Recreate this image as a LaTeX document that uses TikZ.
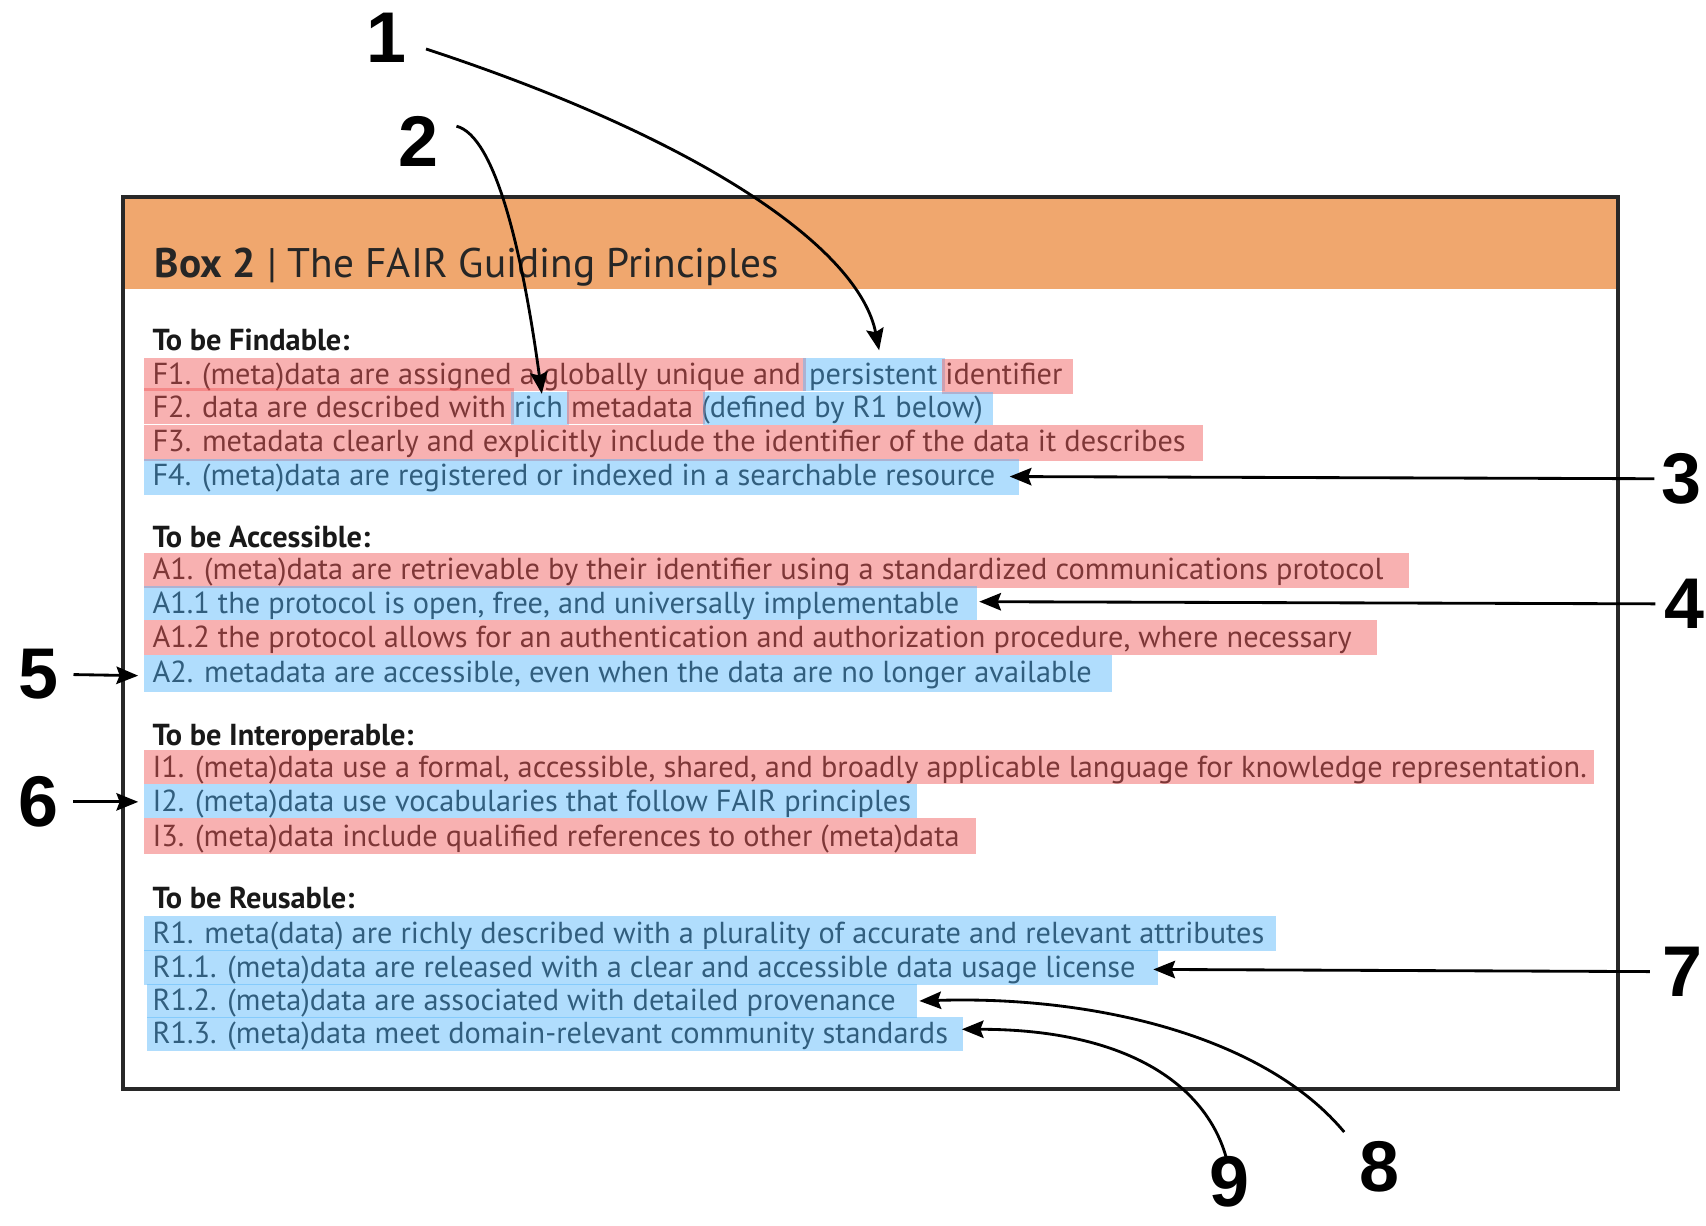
\documentclass[tikz,border=0pt]{standalone}
\usepackage{fontspec}
\usetikzlibrary{arrows.meta}
\newfontfamily\bodyfont{PT Sans}
\newfontfamily\numfont{Liberation Sans}
\definecolor{boxorange}{RGB}{240,167,110}
\definecolor{boxline}{RGB}{40,40,40}
\definecolor{hlred}{RGB}{240,90,90}
\definecolor{hlblue}{RGB}{80,180,250}
\tikzset{
  num/.style={font=\numfont\bfseries\fontsize{66}{66}\selectfont, inner sep=0pt},
  body/.style={font=\bodyfont\fontsize{27.9}{31}\selectfont, inner sep=0pt, anchor=base west, text=black!90},
  head/.style={body, font=\bodyfont\bfseries\fontsize{27.9}{31}\selectfont},
  hlr/.style={fill=hlred, fill opacity=0.47},
  hlb/.style={fill=hlblue, fill opacity=0.45},
  arr/.style={line width=2.6pt, -{Stealth[length=20pt,width=16pt,inset=3pt]}},
}
\newcommand{\hlbar}[5]{\fill[#1] (#2,#3) rectangle (#4,#5);}
\begin{document}
\begin{tikzpicture}[x=1pt,y=-1pt]
\useasboundingbox (0,0) rectangle (1568,1126);

% the box and its header band
\fill[boxorange] (113,181) rectangle (1487,266);
\draw[boxline, line width=3pt] (113,181) rectangle (1487,1001);
\node[inner sep=0pt, anchor=base west, text=black!85,
      font=\bodyfont\fontsize{38}{42}\selectfont] (title) at (142,255)
  {\textbf{Box 2} | The FAIR Guiding Principles};

% Findable
\node[head] (hf) at (140,322) {To be Findable:};
\node[body] (f1) at (140,353) {F1. (meta)data are assigned a globally unique and persistent identifier};
\node[body] (f2) at (140,384) {F2. data are described with rich metadata (defined by R1 below)};
\node[body] (f3) at (140,415) {F3. metadata clearly and explicitly include the identifier of the data it describes};
\node[body] (f4) at (140,446) {F4. (meta)data are registered or indexed in a searchable resource};

% Accessible
\node[head] (ha) at (140,503) {To be Accessible:};
\node[body] (a1) at (140,533) {A1. (meta)data are retrievable by their identifier using a standardized communications protocol};
\node[body] (a11) at (140,564) {A1.1 the protocol is open, free, and universally implementable};
\node[body] (a12) at (140,595) {A1.2 the protocol allows for an authentication and authorization procedure, where necessary};
\node[body] (a2) at (140,627) {A2. metadata are accessible, even when the data are no longer available};

% Interoperable
\node[head] (hi) at (140,685) {To be Interoperable:};
\node[body] (i1) at (140,715) {I1. (meta)data use a formal, accessible, shared, and broadly applicable language for knowledge representation.};
\node[body] (i2) at (140,746) {I2. (meta)data use vocabularies that follow FAIR principles};
\node[body] (i3) at (140,778) {I3. (meta)data include qualified references to other (meta)data};

% Reusable
\node[head] (hr) at (140,835) {To be Reusable:};
\node[body] (r1) at (140,867) {R1. meta(data) are richly described with a plurality of accurate and relevant attributes};
\node[body] (r11) at (140,898) {R1.1. (meta)data are released with a clear and accessible data usage license};
\node[body] (r12) at (140,929) {R1.2. (meta)data are associated with detailed provenance};
\node[body] (r13) at (140,959) {R1.3. (meta)data meet domain-relevant community standards};

% highlighter marks laid over the text
\hlbar{hlr}{132}{329}{741}{359}
\hlbar{hlb}{738}{329}{869}{359}
\hlbar{hlr}{866}{330}{986}{362}
\hlbar{hlr}{132}{357}{472}{390}
\hlbar{hlb}{470}{360}{523}{391}
\hlbar{hlr}{521}{358}{648}{390}
\hlbar{hlb}{646}{360}{913}{391}
\hlbar{hlr}{132}{391}{1106}{424}
\hlbar{hlb}{132}{422}{937}{455}
\hlbar{hlr}{132}{508}{1295}{540}
\hlbar{hlb}{132}{539}{898}{570}
\hlbar{hlr}{132}{570}{1266}{602}
\hlbar{hlb}{132}{602}{1022}{636}
\hlbar{hlr}{132}{689}{1465}{721}
\hlbar{hlb}{132}{721}{843}{752}
\hlbar{hlr}{132}{752}{897}{785}
\hlbar{hlb}{132}{842}{1173}{874}
\hlbar{hlb}{132}{873}{1064}{905}
\hlbar{hlb}{135}{904}{843}{936}
\hlbar{hlb}{135}{935}{885}{966}

% callout numbers
\node[num] (n1) at (355,35) {1};
\node[num] (n2) at (385,130) {2};
\node[num] (n3) at (1545,440) {3};
\node[num] (n4) at (1548,555) {4};
\node[num] (n5) at (35,620) {5};
\node[num] (n6) at (35,737) {6};
\node[num] (n7) at (1546,893) {7};
\node[num] (n8) at (1268,1072) {8};
\node[num] (n9) at (1130,1086) {9};

% arrow targets
\coordinate (t1) at (808,322);
\coordinate (t2) at (498,362);
\coordinate (t3) at (928,438);
\coordinate (t4) at (900,553);
\coordinate (t5) at (127,621);
\coordinate (t6) at (127,737);
\coordinate (t7) at (1060,891);
\coordinate (t8) at (845,920);
\coordinate (t9) at (884,946);

% callout arrows
\draw[arr] ([shift={(18,10)}]n1.east) .. controls (650,130) and (790,230) .. (t1);
\draw[arr] ([shift={(16,-14)}]n2.east) .. controls (455,125) and (480,230) .. (t2);
\draw[arr] ([xshift=-6pt]n3.west) -- (t3);
\draw[arr] ([xshift=-8pt]n4.west) -- (t4);
\draw[arr] ([xshift=14pt]n5.east) -- (t5);
\draw[arr] ([xshift=14pt]n6.east) -- (t6);
\draw[arr] ([xshift=-11pt]n7.west) -- (t7);
\draw[arr] ([shift={(-14,-8)}]n8.north west) .. controls (1160,950) and (1000,915) .. (t8);
\draw[arr] ([shift={(16,3)}]n9.north west) .. controls (1110,1000) and (1040,946) .. (t9);
\end{tikzpicture}
\end{document}
